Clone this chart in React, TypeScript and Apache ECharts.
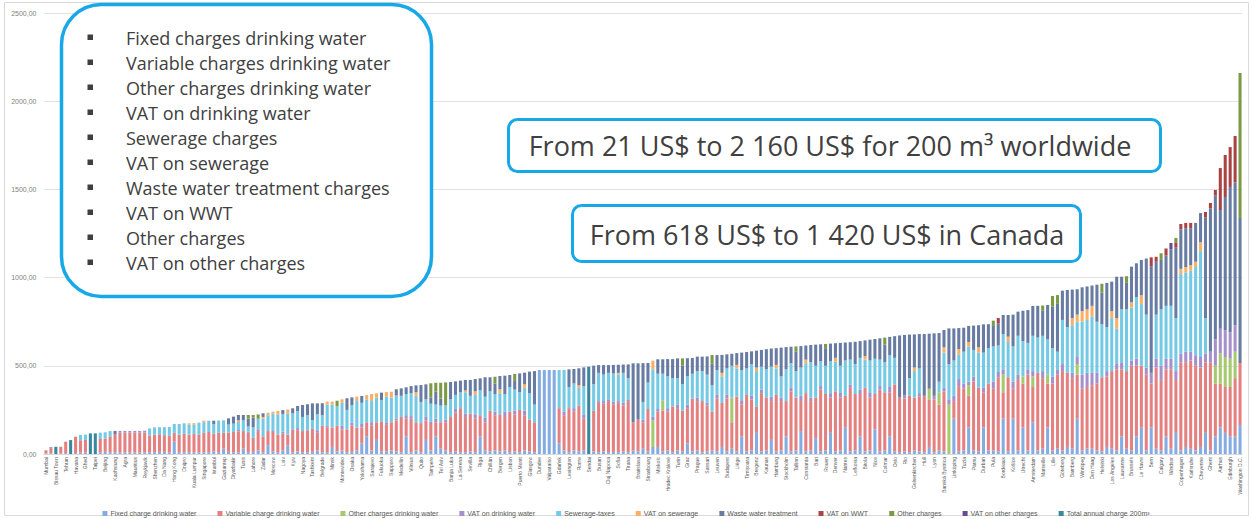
import React, { useEffect, useRef } from "react";
import * as echarts from "echarts";

// ---------- categories (labels shown on every other bar) ----------
const LABELLED_CITIES = [
  "Mumbai", "Bissau Town", "Tehran", "Havana", "Ghed", "Taipei", "Beijing", "Kaohsiung", "Agra", "Mauritius",
  "Reykjavik", "Shenzhen", "Da Nang", "Hong Kong", "Dnipro", "Kuala Lumpur", "Singapore", "Istanbul", "Gaziantep", "Diyarbakir",
  "Tunis", "Lahore", "Zadar", "Moscow", "Lviv", "Kyiv", "Nagoya", "Tashkent", "Belgrade", "Minsk",
  "Montevideo", "Osaka", "Yokohama", "Sarajevo", "Fukuoka", "Sapporo", "Medellín", "Vilnius", "Quito", "Tampere",
  "Tel Aviv", "Banja Luka", "La Serena", "Sevilla", "Riga", "Chillán", "Bergen", "Lisbon", "Puerto Montt", "Glasgow",
  "Dundee", "Valparaíso", "Gdańsk", "Lexington", "Rome", "Sendai", "Busan", "Cluj Napoca", "Sofia", "Tirana",
  "Bratislava", "Strasbourg", "Miskolc", "Hradec Králové", "Turin", "Graz", "Prague", "Sassari", "Leuven", "Budapest",
  "Liège", "Timișoara", "Bregenz", "Kaunas", "Hamburg", "Stockholm", "Tallinn", "Constanța", "Bari", "Rouen",
  "Denver", "Nantes", "Lefkosia", "Bitola", "Nice", "Colmar", "Oslo", "Rio", "Gelsenkirchen", "Hull",
  "Lyon", "Banská Bystrica", "Linköping", "Tuzla", "Pärnu", "Durban", "Pula", "Bordeaux", "Košice", "Utrecht",
  "Amsterdam", "Marseille", "Lille", "Göteborg", "Bamberg", "Winnipeg", "Den Haag", "Helsinki", "Los Angeles", "Lausanne",
  "Brussels", "Le Havre", "Bern", "Calgary", "Windsor", "Copenhagen", "Karlsruhe", "Cheyenne", "Ghent", "Aarhus",
  "Edinburgh", "Washington D.C.",
];
const OTHER_CITIES = [
  "Dhaka", "Karachi", "Kathmandu", "Cairo", "Lagos", "Baghdad", "Nairobi", "Manila", "Jakarta", "Hanoi",
  "Bangkok", "Colombo", "Chennai", "Delhi", "Lima", "Bogotá", "Caracas", "Almaty", "Baku", "Yerevan",
  "Tbilisi", "Chișinău", "Skopje", "Podgorica", "Ankara", "Izmir", "Bursa", "Antalya", "Kharkiv", "Odesa",
  "Samarkand", "Ulaanbaatar", "Guangzhou", "Shanghai", "Tianjin", "Wuhan", "Chengdu", "Taichung", "Tainan", "Incheon",
  "Daegu", "Gwangju", "Kobe", "Kyoto", "Hiroshima", "Santiago", "Antofagasta", "Valdivia", "Buenos Aires", "São Paulo",
  "Mexico City", "Guadalajara", "Monterrey", "Novi Sad", "Niš", "Zagreb", "Rijeka", "Ljubljana", "Maribor", "Kraków",
  "Wrocław", "Poznań", "Łódź", "Warsaw", "Brno", "Ostrava", "Plzeň", "Debrecen", "Szeged", "Pécs",
  "Iași", "Bucharest", "Varna", "Plovdiv", "Thessaloniki", "Athens", "Nicosia", "Montréal", "Valletta", "Porto",
  "Madrid", "Barcelona", "Valencia", "Bilbao", "Milan", "Naples", "Florence", "Genoa", "Palermo", "Vienna",
  "Linz", "Salzburg", "Innsbruck", "Munich", "Berlin", "Cologne", "Frankfurt", "Toronto", "Stuttgart", "Dresden",
  "Leipzig", "Zürich", "Geneva", "Ottawa", "Basel", "Paris", "Toulouse", "Rotterdam", "Antwerp", "Vancouver",
  "Eindhoven", "Groningen", "Luxembourg", "Edmonton", "Dublin", "Cork", "Odense", "Aalborg", "Halifax", "Bristol",
  "London",
];

const Y_TICKS = [0, 500, 1000, 1500, 2000, 2500];

// ---------- values (US$ for 200 m³) ----------
const FIXED_DW = [
  3, 4, 0, 3, 5, 0, 5, 8, 8, 0,
  0, 10, 12, 10, 10, 8, 8, 8, 8, 8,
  8, 10, 10, 12, 12, 8, 70, 10, 10, 10,
  8, 10, 10, 10, 15, 10, 30, 12, 10, 8,
  30, 10, 12, 20, 10, 50, 15, 10, 20, 50,
  10, 15, 10, 10, 12, 20, 10, 10, 40, 15,
  20, 10, 12, 20, 60, 100, 20, 80, 15, 15,
  20, 15, 10, 100, 10, 20, 10, 80, 20, 100,
  30, 20, 10, 15, 10, 10, 15, 10, 100, 20,
  15, 20, 15, 20, 10, 15, 10, 20, 15, 10,
  476, 476, 476, 476, 60, 20, 10, 20, 15, 20,
  0, 15, 10, 15, 10, 12, 10, 15, 10, 20,
  15, 30, 15, 40, 40, 15, 20, 10, 20, 15,
  60, 15, 20, 10, 15, 20, 15, 40, 15, 30,
  15, 100, 15, 20, 120, 15, 20, 80, 15, 20,
  100, 15, 20, 130, 15, 20, 90, 15, 20, 120,
  15, 20, 150, 15, 20, 100, 15, 20, 140, 15,
  20, 100, 15, 10, 15, 10, 20, 15, 10, 40,
  10, 20, 15, 0, 200, 15, 20, 150, 20, 15,
  150, 20, 20, 15, 200, 15, 200, 20, 150, 20,
  180, 20, 30, 150, 20, 30, 20, 40, 30, 200,
  20, 30, 30, 20, 15, 40, 30, 20, 100, 30,
  20, 100, 150, 20, 150, 30, 20, 100, 30, 120,
  20, 40, 30, 20, 40, 120, 20, 100, 150, 120,
  100, 100, 164,
];
const VARIABLE_DW = [
  18, 28, 0, 38, 65, 0, 93, 70, 72, 0,
  0, 75, 76, 90, 100, 113, 113, 113, 113, 113,
  114, 95, 100, 100, 95, 95, 50, 100, 104, 100,
  105, 100, 110, 115, 100, 110, 90, 110, 115, 120,
  100, 110, 80, 110, 90, 80, 110, 100, 95, 60,
  130, 120, 120, 125, 130, 100, 150, 140, 110, 145,
  120, 130, 150, 130, 90, 80, 140, 100, 170, 150,
  160, 175, 200, 100, 190, 160, 165, 110, 150, 80,
  150, 160, 200, 220, 250, 200, 215, 190, 120, 160,
  230, 200, 210, 190, 230, 210, 240, 200, 180, 170,
  0, 0, 0, 0, 200, 200, 250, 220, 260, 180,
  0, 230, 280, 270, 290, 270, 280, 260, 290, 160,
  180, 150, 240, 0, 200, 230, 220, 260, 240, 230,
  200, 300, 280, 290, 260, 220, 300, 250, 300, 150,
  310, 180, 320, 290, 150, 330, 300, 220, 320, 280,
  200, 340, 300, 170, 330, 280, 230, 350, 320, 200,
  340, 300, 180, 360, 320, 240, 360, 300, 200, 350,
  330, 250, 380, 310, 300, 320, 300, 310, 320, 270,
  300, 260, 340, 0, 100, 370, 350, 180, 390, 360,
  200, 380, 350, 420, 150, 420, 170, 400, 250, 430,
  200, 440, 400, 250, 380, 420, 450, 420, 400, 250,
  350, 350, 360, 380, 420, 400, 440, 460, 380, 440,
  480, 400, 350, 430, 250, 460, 400, 380, 450, 300,
  500, 480, 500, 480, 450, 400, 500, 300, 250, 260,
  280, 330, 352,
];
const VAT_DW = [
  0, 0, 0, 0, 0, 0, 0, 0, 0, 0,
  0, 0, 0, 0, 0, 10, 10, 10, 10, 10,
  10, 0, 0, 0, 0, 0, 0, 0, 0, 0,
  0, 0, 0, 0, 0, 0, 0, 0, 0, 8,
  0, 6, 0, 10, 0, 0, 10, 0, 12, 0,
  0, 12, 0, 0, 0, 15, 0, 10, 0, 0,
  20, 0, 15, 0, 20, 0, 20, 0, 0, 15,
  0, 12, 0, 20, 15, 0, 0, 20, 15, 20,
  0, 15, 0, 20, 0, 20, 0, 25, 0, 25,
  0, 20, 0, 30, 0, 20, 0, 25, 0, 0,
  0, 0, 0, 0, 0, 20, 0, 20, 0, 25,
  0, 0, 10, 15, 10, 15, 10, 15, 10, 0,
  0, 15, 0, 20, 15, 0, 20, 0, 20, 0,
  20, 0, 20, 0, 15, 0, 20, 0, 20, 0,
  0, 25, 0, 20, 0, 20, 0, 25, 0, 20,
  0, 20, 0, 30, 0, 20, 0, 20, 0, 25,
  0, 30, 0, 20, 0, 25, 0, 30, 0, 20,
  0, 30, 0, 0, 20, 0, 0, 20, 0, 0,
  20, 0, 20, 30, 30, 40, 30, 20, 30, 0,
  25, 0, 40, 30, 30, 0, 40, 30, 0, 30,
  30, 0, 40, 0, 40, 30, 40, 0, 30, 40,
  80, 80, 70, 60, 0, 30, 0, 30, 40, 0,
  30, 40, 0, 40, 60, 50, 80, 60, 60, 50,
  50, 60, 50, 60, 60, 50, 60, 150, 140, 150,
  150, 150, 0,
];
const SEWERAGE = [
  0, 0, 0, 0, 0, 0, 0, 30, 30, 0,
  0, 36, 35, 30, 0, 0, 0, 0, 0, 0,
  0, 40, 41, 40, 45, 50, 50, 60, 60, 56,
  55, 68, 60, 64, 55, 70, 71, 45, 47, 45,
  61, 30, 60, 60, 100, 90, 95, 114, 100, 120,
  90, 95, 80, 85, 50, 90, 60, 120, 130, 110,
  130, 110, 100, 150, 120, 130, 120, 140, 120, 145,
  140, 130, 120, 120, 130, 150, 120, 100, 100, 80,
  94, 80, 100, 80, 90, 120, 100, 110, 140, 120,
  110, 100, 120, 100, 140, 120, 100, 130, 150, 100,
  0, 0, 0, 0, 216, 236, 120, 140, 100, 160,
  0, 150, 160, 150, 150, 160, 150, 170, 120, 0,
  0, 100, 150, 270, 200, 150, 180, 160, 150, 150,
  160, 140, 150, 170, 160, 150, 140, 150, 150, 180,
  160, 170, 150, 180, 200, 130, 160, 170, 150, 120,
  180, 140, 150, 160, 170, 200, 180, 140, 160, 180,
  170, 150, 200, 140, 170, 180, 160, 180, 200, 150,
  170, 180, 150, 0, 0, 100, 150, 140, 0, 0,
  0, 60, 200, 200, 200, 140, 180, 200, 150, 200,
  200, 200, 200, 150, 200, 200, 200, 220, 200, 150,
  200, 200, 200, 200, 160, 100, 250, 260, 270, 200,
  300, 300, 320, 290, 300, 250, 300, 200, 300, 350,
  300, 350, 350, 300, 0, 250, 320, 300, 300, 300,
  450, 450, 460, 500, 600, 200, 0, 0, 0, 0,
  0, 0, 0,
];
const WWT = [
  0, 6, 0, 0, 0, 0, 0, 0, 0, 0,
  0, 0, 0, 0, 21, 0, 0, 0, 0, 0,
  0, 0, 0, 0, 0, 0, 0, 0, 0, 0,
  0, 0, 0, 0, 19, 0, 0, 35, 40, 30,
  30, 45, 54, 0, 21, 0, 0, 0, 22, 0,
  29, 30, 68, 62, 95, 62, 68, 0, 0, 0,
  0, 66, 44, 0, 39, 0, 0, 0, 43, 0,
  0, 35, 42, 38, 40, 39, 96, 85, 36, 74,
  40, 0, 98, 77, 66, 60, 90, 70, 69, 110,
  80, 60, 75, 104, 68, 49, 107, 66, 122, 190,
  0, 0, 0, 0, 0, 0, 100, 82, 96, 106,
  0, 106, 44, 54, 44, 48, 46, 47, 78, 334,
  319, 220, 111, 0, 82, 82, 98, 108, 112, 107,
  103, 89, 82, 82, 103, 121, 86, 102, 80, 68,
  67, 100, 93, 72, 96, 95, 114, 103, 95, 163,
  126, 93, 110, 122, 80, 98, 120, 97, 100, 101,
  83, 130, 102, 99, 126, 95, 89, 118, 112, 121,
  100, 104, 123, 352, 340, 247, 188, 195, 350, 312,
  354, 276, 98, 202, 182, 119, 136, 91, 138, 125,
  160, 136, 116, 126, 108, 123, 180, 137, 172, 186,
  169, 180, 142, 195, 236, 271, 166, 210, 162, 144,
  135, 130, 115, 210, 180, 250, 167, 235, 185, 150,
  202, 191, 200, 318, 605, 300, 280, 285, 320, 400,
  224, 220, 210, 220, 166, 572, 813, 817, 673, 757,
  824, 810, 822,
];
// sparse series: bar index -> value
const OTHER_DW: Record<number, number> = {
  123: 150, 125: 60, 139: 140, 179: 60, 181: 70, 183: 280, 187: 60, 194: 100, 198: 40,
  200: 60, 203: 50, 209: 60, 237: 100, 238: 170, 239: 170, 240: 160, 241: 150,
};
const VAT_SEWERAGE: Record<number, number> = {
  29: 8, 30: 7, 32: 9, 39: 10, 44: 10, 45: 14, 46: 10, 47: 20, 49: 22, 57: 17, 58: 17,
  60: 20, 63: 25, 65: 24, 66: 40, 67: 24, 69: 26, 70: 33, 75: 20, 85: 10, 87: 20, 92: 22,
  97: 20, 108: 15, 116: 10, 123: 49, 137: 20, 140: 20, 144: 20, 148: 20, 154: 20, 160: 20,
  166: 20, 176: 20, 182: 30, 185: 30, 187: 25, 189: 30, 195: 30, 208: 40, 209: 40, 210: 60,
  211: 60, 212: 60, 216: 40, 217: 60, 220: 30, 222: 50, 230: 30, 231: 30, 232: 30, 233: 30, 234: 50,
};
const VAT_WWT: Record<number, number> = {
  193: 30, 224: 50, 225: 28, 227: 40, 229: 30, 230: 30, 231: 30, 232: 30, 235: 30, 236: 30,
  237: 30, 238: 238, 239: 238, 240: 226, 241: 263,
};
const OTHER_CHARGES: Record<number, number> = {
  41: 20, 42: 15, 43: 24, 59: 32, 78: 80, 79: 50, 80: 90, 81: 131, 91: 38, 95: 40, 129: 40,
  135: 50, 152: 30, 158: 24, 170: 40, 192: 30, 202: 30, 204: 60, 205: 50, 214: 50, 219: 38,
  226: 38, 229: 25, 242: 822,
};
const VAT_OTHER: Record<number, number> = { 228: 36 };
const TOTAL_ONLY: Record<number, number> = { 2: 41, 5: 79, 9: 117, 10: 117, 110: 495 };

const SERIES_NAMES = [
  "Fixed charge drinking water", "Variable charge drinking water", "Other charges drinking water",
  "VAT on drinking water", "Sewerage-taxes", "VAT on sewerage", "Waste water treatment",
  "VAT on WWT", "Other charges", "VAT on other charges", "Total annual charge 200m³",
];
const SERIES_COLORS = [
  "#85ace2", "#e58080", "#a6c96e", "#a690cc", "#74c9e4", "#f7b066",
  "#687ca3", "#a84444", "#7c9a46", "#644b93", "#37879e",
];

const BOX_ITEMS = [
  "Fixed charges drinking water", "Variable charges drinking water", "Other charges drinking water",
  "VAT on drinking water", "Sewerage charges", "VAT on sewerage", "Waste water treatment charges",
  "VAT on WWT", "Other charges", "VAT on other charges",
];
const HEADLINE_WORLD = "From 21 US$ to 2 160 US$ for 200 m³ worldwide";
const HEADLINE_CANADA = "From 618 US$ to 1 420 US$ in Canada";

const CATEGORIES: string[] = [];
for (let i = 0; i < LABELLED_CITIES.length; i++) {
  CATEGORIES.push(LABELLED_CITIES[i]);
  if (i < OTHER_CITIES.length) CATEGORIES.push(OTHER_CITIES[i]);
}
const N = CATEGORIES.length;
const fromSparse = (m: Record<number, number>) => {
  const out: number[] = new Array(N).fill(0);
  Object.keys(m).forEach((k) => (out[Number(k)] = m[Number(k)]));
  return out;
};

const SERIES_DATA = [
  FIXED_DW, VARIABLE_DW, fromSparse(OTHER_DW), VAT_DW, SEWERAGE, fromSparse(VAT_SEWERAGE),
  WWT, fromSparse(VAT_WWT), fromSparse(OTHER_CHARGES), fromSparse(VAT_OTHER), fromSparse(TOTAL_ONLY),
];

const FONT = "'Liberation Sans', Arial, sans-serif";
const BOX_FONT = "'Open Sans', 'Noto Sans', sans-serif";
const BLUE = "#18a8e8";
const INK = "#404040";

export default function App() {
  const ref = useRef<HTMLDivElement>(null);
  useEffect(() => {
    if (!ref.current) return;
    const chart = echarts.init(ref.current, undefined, { renderer: "svg" });

    const graphics: any[] = [
      {
        type: "rect", z: 0, silent: true,
        shape: { x: 4.5, y: 2.5, width: 1244, height: 513 },
        style: { fill: "none", stroke: "#d9d9d9", lineWidth: 1 },
      },
      {
        type: "rect", z: 100,
        shape: { x: 61.5, y: 4.5, width: 370, height: 292, r: 40 },
        style: { fill: "#ffffff", stroke: BLUE, lineWidth: 3.5 },
      },
      {
        type: "rect", z: 100,
        shape: { x: 508.5, y: 119.5, width: 652, height: 52, r: 9 },
        style: { fill: "#ffffff", stroke: BLUE, lineWidth: 3 },
      },
      {
        type: "text", z: 101, x: 830, y: 145.5,
        style: { text: HEADLINE_WORLD, font: `27px ${BOX_FONT}`, fill: INK, align: "center", verticalAlign: "middle" },
      },
      {
        type: "rect", z: 100,
        shape: { x: 572.5, y: 205.5, width: 508, height: 56, r: 9 },
        style: { fill: "#ffffff", stroke: BLUE, lineWidth: 3 },
      },
      {
        type: "text", z: 101, x: 827, y: 234,
        style: { text: HEADLINE_CANADA, font: `27px ${BOX_FONT}`, fill: INK, align: "center", verticalAlign: "middle" },
      },
    ];
    BOX_ITEMS.forEach((t, i) => {
      const cy = 37.5 + i * 25;
      graphics.push({
        type: "rect", z: 101,
        shape: { x: 87.5, y: cy - 3, width: 5.5, height: 5.5 },
        style: { fill: "#3f3f3f" },
      });
      graphics.push({
        type: "text", z: 101, x: 126, y: cy,
        style: { text: t, font: `18px ${BOX_FONT}`, fill: INK, verticalAlign: "middle" },
      });
    });

    chart.setOption({
      animation: false,
      backgroundColor: "#ffffff",
      textStyle: { fontFamily: FONT },
      grid: { left: 43.5, top: 13, width: 1199, height: 441, containLabel: false },
      legend: {
        data: SERIES_NAMES,
        top: 505,
        left: "center",
        icon: "rect",
        itemWidth: 5,
        itemHeight: 5,
        itemGap: 21,
        textStyle: { fontSize: 7, color: "#595959", fontFamily: FONT, padding: [0, 0, 0, -2] },
      },
      xAxis: {
        type: "category",
        data: CATEGORIES,
        axisTick: { show: false },
        axisLine: { lineStyle: { color: "#d9d9d9" } },
        axisLabel: { rotate: 90, fontSize: 5, interval: 1, color: "#595959", margin: 3, fontFamily: FONT },
      },
      yAxis: {
        type: "value",
        min: Y_TICKS[0],
        max: Y_TICKS[Y_TICKS.length - 1],
        interval: Y_TICKS[1] - Y_TICKS[0],
        axisLine: { show: false },
        axisTick: { show: false },
        splitLine: { lineStyle: { color: "#e3e3e3" } },
        axisLabel: {
          fontSize: 7, color: "#7f7f7f", margin: 7, fontFamily: FONT,
          formatter: (v: number) => v.toFixed(2).replace(".", ","),
        },
      },
      series: SERIES_NAMES.map((name, i) => ({
        name,
        type: "bar",
        stack: "total",
        barCategoryGap: "38%",
        itemStyle: { color: SERIES_COLORS[i] },
        emphasis: { disabled: true },
        data: SERIES_DATA[i],
      })),
      graphic: graphics,
    });
    return () => chart.dispose();
  }, []);
  return (
    <div
      ref={ref}
      style={{ position: "absolute", left: 0, top: 0, width: 1252, height: 519, background: "#fff" }}
    />
  );
}
